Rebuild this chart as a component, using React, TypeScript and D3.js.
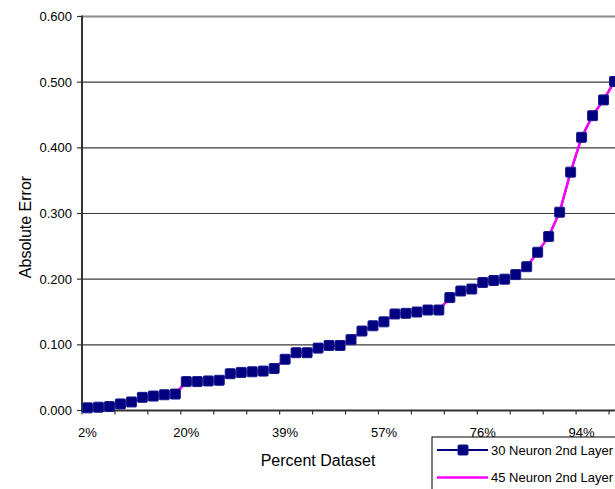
import React from "react";
import * as d3 from "d3";

const categories = [
  "2%", "4%", "6%", "8%", "10%", "12%", "14%", "16%", "18%", "20%",
  "22%", "24%", "27%", "29%", "31%", "33%", "35%", "37%", "39%", "41%",
  "43%", "45%", "47%", "49%", "51%", "53%", "55%", "57%", "59%", "61%",
  "63%", "65%", "67%", "69%", "71%", "73%", "76%", "78%", "80%", "82%",
  "84%", "86%", "88%", "90%", "92%", "94%", "96%", "98%", "100%",
];

const errors30 = [
  0.004, 0.005, 0.006, 0.010, 0.013, 0.020, 0.022, 0.024, 0.025, 0.044,
  0.044, 0.045, 0.046, 0.056, 0.058, 0.059, 0.060, 0.064, 0.078, 0.088,
  0.088, 0.095, 0.099, 0.099, 0.108, 0.121, 0.129, 0.135, 0.147, 0.148,
  0.150, 0.153, 0.153, 0.172, 0.182, 0.185, 0.195, 0.198, 0.200, 0.207,
  0.219, 0.241, 0.265, 0.302, 0.363, 0.416, 0.449, 0.473, 0.501,
];

const errors45 = [
  0.004, 0.005, 0.006, 0.010, 0.013, 0.020, 0.022, 0.024, 0.025, 0.044,
  0.044, 0.045, 0.046, 0.056, 0.058, 0.059, 0.060, 0.064, 0.078, 0.088,
  0.088, 0.095, 0.099, 0.099, 0.108, 0.121, 0.129, 0.135, 0.147, 0.148,
  0.150, 0.153, 0.153, 0.172, 0.182, 0.185, 0.195, 0.198, 0.200, 0.207,
  0.219, 0.241, 0.265, 0.302, 0.363, 0.416, 0.449, 0.473, 0.501,
];

const yTicks = [0, 0.1, 0.2, 0.3, 0.4, 0.5, 0.6];
const labelEvery = 9;
const tickEvery = 3;
const seriesNames = ["30 Neuron 2nd Layer", "45 Neuron 2nd Layer"];

const W = 615;
const H = 489;
const FONT = "'Liberation Sans', Arial, sans-serif";

export default function App() {
  const left = 82;
  const top = 16.5;
  const bottom = 410.5;
  const step = 10.98;
  const right = left + step * categories.length;
  const ms = 10;

  const x = d3.scaleBand<string>().domain(categories).range([left, right]).padding(0);
  const y = d3.scaleLinear().domain([0, 0.6]).range([bottom, top]);
  const cx = (i: number) => (x(categories[i]) as number) + x.bandwidth() / 2;

  const line = d3
    .line<number>()
    .x((_, i) => cx(i))
    .y((d) => y(d));

  const boundaryTicks = d3.range(0, categories.length + 1, tickEvery).map((i) => left + i * x.bandwidth());
  const labelIdx = d3.range(0, categories.length, labelEvery);

  return (
    <svg
      width={W}
      height={H}
      style={{ position: "absolute", left: 0, top: 0, background: "#fff" }}
      fontFamily={FONT}
    >
      <rect x={0} y={0} width={W} height={H} fill="#fff" />
      {yTicks.slice(1, -1).map((t) => (
        <line key={t} x1={left} x2={right} y1={y(t)} y2={y(t)} stroke="#3a3a3a" strokeWidth={1.2} />
      ))}
      <line x1={left} x2={right} y1={y(0.6)} y2={y(0.6)} stroke="#8a8a8a" strokeWidth={2} />

      <line x1={left} x2={left} y1={top - 1} y2={bottom} stroke="#333" strokeWidth={2} />
      {yTicks.map((t) => (
        <g key={t}>
          <line x1={left - 5} x2={left} y1={y(t)} y2={y(t)} stroke="#333" strokeWidth={1.2} />
          <text x={72} y={y(t)} dy="0.35em" textAnchor="end" fontSize={13} fill="#000">
            {d3.format(".3f")(t)}
          </text>
        </g>
      ))}

      <line x1={left - 1} x2={right} y1={bottom} y2={bottom} stroke="#333" strokeWidth={2} />
      {boundaryTicks.map((bx, i) => (
        <line key={i} x1={bx} x2={bx} y1={bottom} y2={bottom + 4} stroke="#333" strokeWidth={1.2} />
      ))}
      {labelIdx.map((i) => (
        <text key={i} x={cx(i)} y={437} textAnchor="middle" fontSize={13} fill="#000">
          {categories[i]}
        </text>
      ))}

      <text x={318} y={466} textAnchor="middle" fontSize={16} fill="#000">
        Percent Dataset
      </text>
      <text transform={`translate(31, 227) rotate(-90)`} textAnchor="middle" fontSize={16} fill="#000">
        Absolute Error
      </text>

      <path d={line(errors30) || ""} fill="none" stroke="#000080" strokeWidth={2} />
      <path d={line(errors45) || ""} fill="none" stroke="#ff00ff" strokeWidth={2.5} />
      {errors30.map((v, i) => (
        <rect
          key={i}
          x={cx(i) - ms / 2}
          y={y(v) - ms / 2}
          width={ms}
          height={ms}
          rx={1}
          fill="#000080"
          stroke="#1a1a8c"
          strokeWidth={1}
        />
      ))}

      <rect x={432} y={437} width={220} height={70} fill="#fff" stroke="#000" strokeWidth={1} />
      <line x1={437} x2={488} y1={450} y2={450} stroke="#000080" strokeWidth={2} />
      <rect x={463 - ms / 2} y={450 - ms / 2} width={ms} height={ms} rx={1} fill="#000080" stroke="#1a1a8c" strokeWidth={1} />
      <text x={491} y={450} dy="0.35em" fontSize={13} fill="#000">
        {seriesNames[0]}
      </text>
      <line x1={437} x2={488} y1={477.5} y2={477.5} stroke="#ff00ff" strokeWidth={2.5} />
      <text x={491} y={477.5} dy="0.35em" fontSize={13} fill="#000">
        {seriesNames[1]}
      </text>
    </svg>
  );
}
